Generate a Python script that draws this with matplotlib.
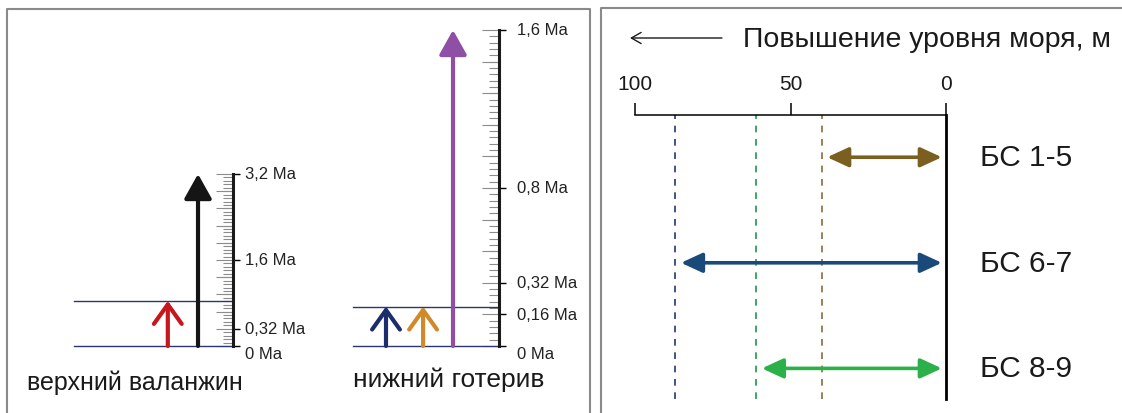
import matplotlib.pyplot as plt
from matplotlib.lines import Line2D
from matplotlib.text import Annotation
from matplotlib.ticker import FixedLocator, MultipleLocator
import matplotlib.transforms as mtransforms

plt.rcParams['font.family'] = ['Liberation Sans', 'DejaVu Sans']

W, H = 1122, 414

# upper Valanginian scale (Ma)
valanginian_ticks = [0, 0.32, 1.6, 3.2]
valanginian_band = 0.84
valanginian_arrows = [0.84, 3.2]

# lower Hauterivian scale (Ma)
hauterivian_ticks = [0, 0.16, 0.32, 0.8, 1.6]
hauterivian_band = 0.2
hauterivian_arrows = [0.2, 0.2, 1.6]

# sea level rise per formation (m)
formations = ["БС 1-5", "БС 6-7", "БС 8-9"]
sea_level_rise = [40, 87, 61]
rise_ticks = [100, 50, 0]


def px_rect(x0, y0, x1, y1):
    return [x0 / W, 1 - y1 / H, (x1 - x0) / W, (y1 - y0) / H]


def ma_label(v):
    return ("%g" % v).replace(".", ",") + " Ma"


def scale_axes(rect, ticks, label_dx):
    ax = fig.add_axes(rect)
    top = max(ticks)
    ax.set_xlim(0, 1)
    ax.set_ylim(0, top)
    ax.patch.set_visible(False)
    for s in ("left", "top", "bottom"):
        ax.spines[s].set_visible(False)
    ax.spines["right"].set_linewidth(2.2)
    ax.spines["right"].set_color("#1a1a1a")
    ax.set_xticks([])
    ax.yaxis.set_ticks_position("right")
    ax.yaxis.set_major_locator(FixedLocator(ticks))
    ax.yaxis.set_minor_locator(MultipleLocator(top / 50))
    ax.tick_params(axis="y", which="major", direction="out", length=5, width=1,
                   labelright=False)
    ax.tick_params(axis="y", which="minor", direction="in", length=7, width=0.8,
                   color="#8c8c8c")
    # longer ticks every tenth of the scale
    sec = ax.secondary_yaxis("right")
    sec.spines["right"].set_visible(False)
    sec.yaxis.set_major_locator(MultipleLocator(top / 10))
    sec.tick_params(direction="in", length=12, width=0.8, color="#8c8c8c",
                    labelright=False)
    trans = mtransforms.blended_transform_factory(ax.transAxes, ax.transData)
    off = mtransforms.offset_copy(trans, fig=fig, x=label_dx, y=0, units="dots")
    for v in ticks:
        ax.text(1, v, ma_label(v), transform=off, ha="left",
                va="top" if v == 0 else "center", fontsize=12, color="#222222")
    return ax


def up_arrow(ax, x, y, color, filled):
    if filled:
        style = "-|>,head_length=0.75,head_width=0.42"
    else:
        style = "->,head_length=0.7,head_width=0.5"
    ax.annotate("", xy=(x, y), xytext=(x, 0), annotation_clip=False,
                arrowprops=dict(arrowstyle=style, lw=3, color=color,
                                shrinkA=0, shrinkB=0, mutation_scale=20))


fig = plt.figure(figsize=(W / 100, H / 100), dpi=100)

# panel frames
frame = dict(color="#8a8a8a", lw=1.5)
fig.add_artist(Line2D([7 / W, 7 / W, 590 / W, 590 / W], [0, 1 - 10 / H, 1 - 10 / H, 0], **frame))
fig.add_artist(Line2D([601 / W, 601 / W, 1], [0, 1 - 9 / H, 1 - 9 / H], **frame))

# upper Valanginian
ax_v = scale_axes(px_rect(74, 175, 233, 347), valanginian_ticks, 12)
for y in (0, valanginian_band):
    ax_v.axhline(y, color="#2c3570", lw=1, clip_on=False)
up_arrow(ax_v, 0.59, valanginian_arrows[0], "#c8161d", False)
up_arrow(ax_v, 0.78, valanginian_arrows[1], "#151515", True)
fig.text(27 / W, 1 - 383 / H, "верхний валанжин", fontsize=18, va="center",
         color="#1a1a1a")

# lower Hauterivian
ax_h = scale_axes(px_rect(353, 31, 499, 347), hauterivian_ticks, 18)
for y in (0, hauterivian_band):
    ax_h.axhline(y, color="#2c3570", lw=1, clip_on=False)
up_arrow(ax_h, 0.226, hauterivian_arrows[0], "#1c2d6b", False)
up_arrow(ax_h, 0.48, hauterivian_arrows[1], "#d08a2a", False)
up_arrow(ax_h, 0.685, hauterivian_arrows[2], "#8e4fa5", True)
fig.text(353 / W, 1 - 380 / H, "нижний готерив", fontsize=19, va="center",
         color="#1a1a1a")

# sea level rise
ax_s = fig.add_axes(px_rect(635, 116, 946, 400))
ax_s.set_xlim(100, 0)
ax_s.set_ylim(2.29, -0.4)
ax_s.patch.set_visible(False)
for s in ("left", "bottom"):
    ax_s.spines[s].set_visible(False)
ax_s.spines["top"].set_linewidth(1.1)
ax_s.spines["right"].set_linewidth(2)
ax_s.set_yticks([])
ax_s.xaxis.set_ticks_position("top")
ax_s.set_xticks(rise_ticks)
ax_s.set_xticklabels([str(t) for t in rise_ticks])
ax_s.tick_params(axis="x", direction="out", length=9, width=1.1, pad=7,
                 labelsize=15, labelcolor="#1a1a1a")

arrow_colors = ["#7b5f20", "#1a4a7a", "#2bb04a"]
dash_colors = ["#8a6a3a", "#22366e", "#1c9a48"]
for i, (name, rise) in enumerate(zip(formations, sea_level_rise)):
    ax_s.axvline(rise, color=dash_colors[i], lw=1.2, ls=(0, (4, 4)))
    ax_s.annotate("", xy=(rise, i), xytext=(0, i),
                  arrowprops=dict(arrowstyle="<|-|>,head_length=0.65,head_width=0.3",
                                  lw=2.6, color=arrow_colors[i], shrinkA=3, shrinkB=4,
                                  mutation_scale=20))
    ax_s.text(980 / W, i, name, transform=mtransforms.blended_transform_factory(
        fig.transFigure, ax_s.transData), fontsize=21.5, va="center", ha="left",
        color="#1a1a1a")

fig.text(743 / W, 1 - 40 / H, "Повышение уровня моря, м", fontsize=20.5,
         va="center", ha="left", color="#1a1a1a")
fig.add_artist(Annotation(
    "", xy=(630 / W, 1 - 39 / H), xytext=(722 / W, 1 - 39 / H),
    xycoords="figure fraction", textcoords="figure fraction",
    arrowprops=dict(arrowstyle="->,head_length=0.35,head_width=0.2", lw=1,
                    color="#1a1a1a", shrinkA=0, shrinkB=0, mutation_scale=20)))

fig.savefig("out.png", dpi=100)
